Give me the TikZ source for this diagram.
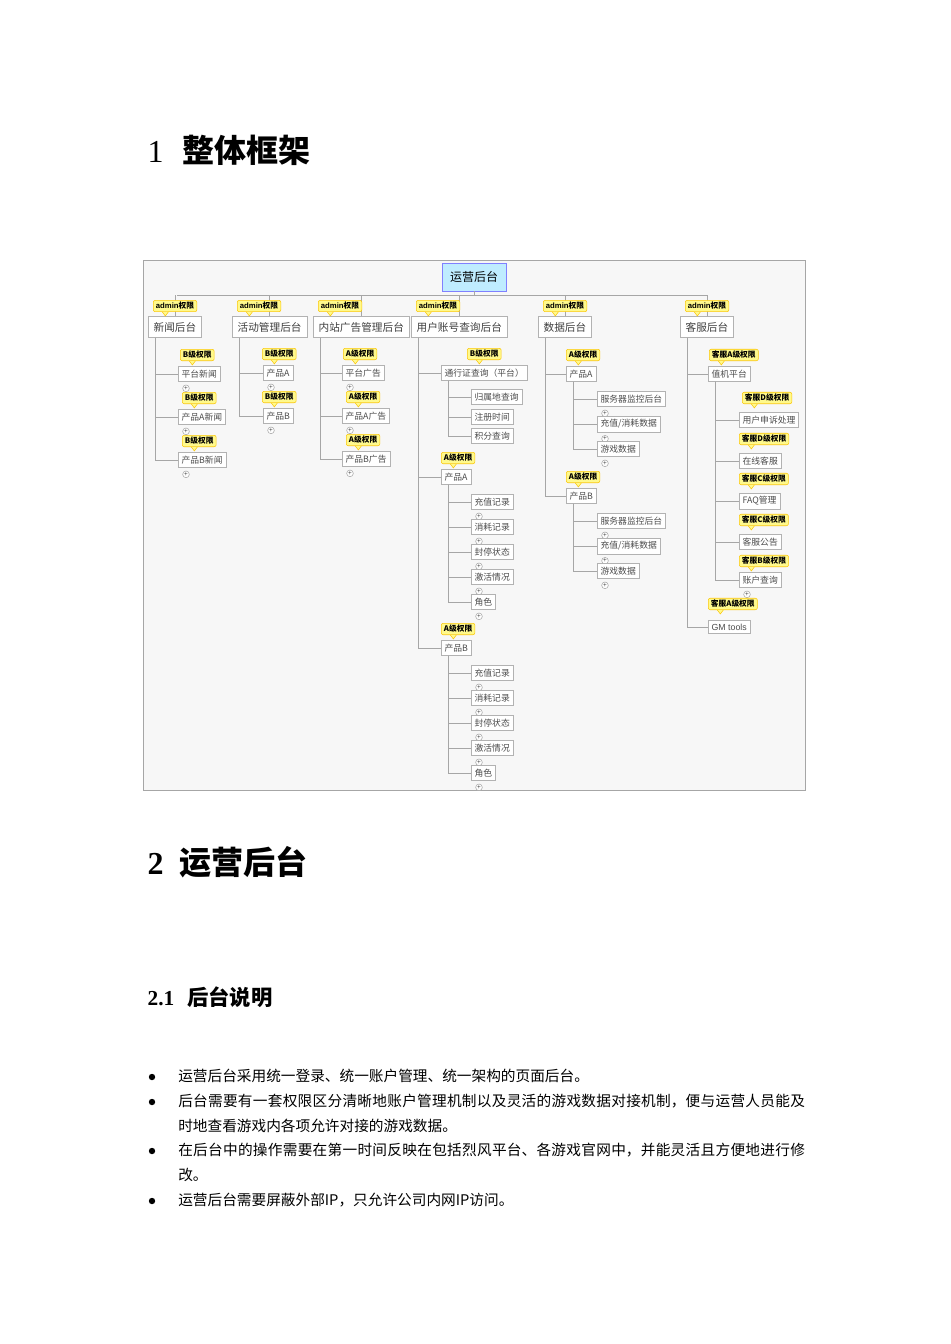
\documentclass[tikz,border=0pt]{standalone}
\usepackage{fontspec}
\setmainfont{Liberation Serif}
\newfontfamily\cjk{Noto Sans CJK SC}
\newfontfamily\lab{Liberation Sans}
\XeTeXlinebreaklocale "zh"
\XeTeXlinebreakskip=0pt plus 1pt
\begin{document}
\begin{tikzpicture}[x=0.75pt,y=-0.75pt,
 conn/.style={draw=gray!70,line width=0.6pt},
 lone/.style={draw=gray!60,fill=white,font=\cjk\fontsize{8}{9}\selectfont,inner xsep=4pt,inner ysep=4pt,text=black!75},
 cbox/.style={draw=gray!60,fill=white,font=\cjk\fontsize{6.6}{8}\selectfont,inner xsep=2.5pt,inner ysep=2.5pt,text=black!70},
 tagbox/.style={draw=yellow!60!orange,fill=yellow!45,rounded corners=1.5pt,font=\cjk\bfseries\fontsize{5.8}{6.5}\selectfont,inner xsep=2pt,inner ysep=1.5pt},
 plus/.style={circle,draw=gray!70,fill=white,inner sep=0pt,minimum size=5pt,font=\fontsize{5}{5}\selectfont}]
\useasboundingbox (0,0) rectangle (950,1344);
\fill[white] (0,0) rectangle (950,1344);
\newcommand\tagat[3]{\node[tagbox,anchor=south west] (t) at (#1,#2) {#3};
 \fill[yellow!45,draw=yellow!60!orange] ([xshift=7]t.south west) -- ++(3,4) -- ++(3,-4);}
\newcommand\mm[5]{\node[cbox,anchor=west] (#1) at (#3,#4) {#5};
 \draw[conn] (#2.south west) ++(7,0) |- (#1.west);}
\newcommand\pl[1]{\node[plus] at ([xshift=6,yshift=-5]#1.south west) {+};}
% headings
\node[anchor=west,font=\fontsize{24}{28}\selectfont] at (143,150) {1\hspace{0.6em}{\cjk\bfseries 整体框架}};
\node[anchor=west,font=\bfseries\fontsize{24}{28}\selectfont] at (143,862) {2\hspace{0.5em}{\cjk 运营后台}};
\node[anchor=west,font=\bfseries\fontsize{16}{20}\selectfont] at (143,997) {2.1\hspace{0.6em}{\cjk 后台说明}};
% frame
\draw[gray!70,fill=gray!6] (143,260) rectangle (805,790);
\node[draw=blue!50,fill=blue!30!cyan!25,font=\cjk\fontsize{9}{10}\selectfont,minimum width=48pt,minimum height=21pt] (root) at (474,277) {运营后台};
\draw[conn] (root.south) -- (474,295);
\draw[conn] (177,295) -- (708,295);
\foreach \n/\x/\t in {n1/148/新闻后台,n2/232/活动管理后台,n3/313/内站广告管理后台,n4/411/用户账号查询后台,n5/538/数据后台,n6/680/客服后台}{
 \node[lone,anchor=west] (\n) at (\x,327) {\t};
 \draw[conn] (\n.north) -- (\n.north|-0,295);
 \tagat{\x+5}{312}{\lab admin{\cjk 权限}}
}
% news
\tagat{180}{361}{B级权限}\mm{a1}{n1}{178}{374}{平台新闻}\pl{a1}
\tagat{182}{404}{B级权限}\mm{a2}{n1}{178}{417}{产品A新闻}\pl{a2}
\tagat{182}{447}{B级权限}\mm{a3}{n1}{178}{460}{产品B新闻}\pl{a3}
% activity
\tagat{262}{360}{B级权限}\mm{b1}{n2}{263}{373}{产品A}\pl{b1}
\tagat{262}{403}{B级权限}\mm{b2}{n2}{263}{416}{产品B}\pl{b2}
% ads
\tagat{343}{360}{A级权限}\mm{c1}{n3}{342}{373}{平台广告}\pl{c1}
\tagat{346}{403}{A级权限}\mm{c2}{n3}{342}{416}{产品A广告}\pl{c2}
\tagat{346}{446}{A级权限}\mm{c3}{n3}{342}{459}{产品B广告}\pl{c3}
% users
\tagat{467}{360}{B级权限}\mm{d1}{n4}{441}{373}{通行证查询（平台）}
\mm{d11}{d1}{471}{397}{归属地查询}\mm{d12}{d1}{471}{417}{注册时间}\mm{d13}{d1}{471}{436}{积分查询}
\tagat{441}{464}{A级权限}\mm{d2}{n4}{441}{477}{产品A}
\foreach \t [count=\i] in {充值记录,消耗记录,封停状态,激活情况,角色}{
 \mm{da\i}{d2}{471}{477+25*\i}{\t}\pl{da\i}}
\tagat{441}{635}{A级权限}\mm{d3}{n4}{441}{648}{产品B}
\foreach \t [count=\i] in {充值记录,消耗记录,封停状态,激活情况,角色}{
 \mm{db\i}{d3}{471}{648+25*\i}{\t}\pl{db\i}}
% data
\tagat{566}{361}{A级权限}\mm{e1}{n5}{566}{374}{产品A}
\mm{e11}{e1}{597}{399}{服务器监控后台}\pl{e11}\mm{e12}{e1}{597}{424}{充值/消耗数据}\pl{e12}\mm{e13}{e1}{597}{449}{游戏数据}\pl{e13}
\tagat{566}{483}{A级权限}\mm{e2}{n5}{566}{496}{产品B}
\mm{e21}{e2}{597}{521}{服务器监控后台}\pl{e21}\mm{e22}{e2}{597}{546}{充值/消耗数据}\pl{e22}\mm{e23}{e2}{597}{571}{游戏数据}\pl{e23}
% service
\tagat{709}{361}{客服A级权限}\mm{f1}{n6}{708}{374}{值机平台}
\tagat{742}{404}{客服D级权限}\mm{f11}{f1}{739}{420}{用户申诉处理}
\tagat{739}{445}{客服D级权限}\mm{f12}{f1}{739}{461}{在线客服}
\tagat{739}{485}{客服C级权限}\mm{f13}{f1}{739}{501}{FAQ管理}
\tagat{739}{526}{客服C级权限}\mm{f14}{f1}{739}{542}{客服公告}
\tagat{739}{567}{客服B级权限}\mm{f15}{f1}{739}{580}{账户查询}\pl{f15}
\tagat{708}{610}{客服A级权限}\mm{f2}{n6}{708}{627}{{\lab GM tools}}
% bullets
\begin{scope}[every node/.style={anchor=north west,font=\cjk\fontsize{11}{18.5}\selectfont,text width=470pt,align=justify,inner sep=0pt}]
\foreach \y/\t in {1069/运营后台采用统一登录、统一账户管理、统一架构的页面后台。,
 1094/后台需要有一套权限区分清晰地账户管理机制以及灵活的游戏数据对接机制，便与运营人员能及时地查看游戏内各项允许对接的游戏数据。,
 1143/在后台中的操作需要在第一时间反映在包括烈风平台、各游戏官网中，并能灵活且方便地进行修改。,
 1193/运营后台需要屏蔽外部IP，只允许公司内网IP访问。}{
 \fill (152,\y+8) circle (3.2);
 \node at (178,\y) {\t};}
\end{scope}
\end{tikzpicture}
\end{document}
